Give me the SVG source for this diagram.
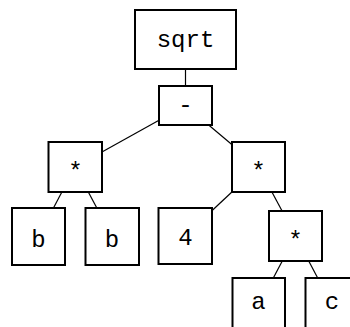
<svg xmlns="http://www.w3.org/2000/svg" width="350" height="327" viewBox="0 0 350 327">
<style>
.box{fill:#fff;stroke:#000;stroke-width:2}
.lbl{font-family:"Liberation Mono","DejaVu Sans Mono",monospace;font-size:24px;text-anchor:middle;fill:#000}
.edge{stroke:#000;stroke-width:1.2;fill:none}
</style>
<rect width="350" height="327" fill="#fff"/>
<g id="connectors">
<line class="edge" x1="185.5" y1="39.5" x2="185.5" y2="105.5"/>
<line class="edge" x1="185.5" y1="105.5" x2="75" y2="167"/>
<line class="edge" x1="185.5" y1="105.5" x2="258.5" y2="167"/>
<line class="edge" x1="75" y1="167" x2="38.5" y2="236.5"/>
<line class="edge" x1="75" y1="167" x2="112" y2="236.5"/>
<line class="edge" x1="258.5" y1="167" x2="185" y2="236"/>
<line class="edge" x1="258.5" y1="167" x2="295.5" y2="236"/>
<line class="edge" x1="295.5" y1="236" x2="258.5" y2="306"/>
<line class="edge" x1="295.5" y1="236" x2="332.5" y2="306"/>
</g>
<g id="n_sqrt"><rect class="box" x="135" y="10" width="101" height="59"/><text class="lbl" x="185.5" y="46.5">sqrt</text></g>
<g id="n_minus"><rect class="box" x="159" y="86" width="53" height="39"/><text class="lbl" x="185.5" y="112">-</text></g>
<g id="n_mul1"><rect class="box" x="48.5" y="142" width="53.5" height="50"/><text class="lbl" x="75.5" y="179">*</text></g>
<g id="n_b1"><rect class="box" x="12" y="208" width="53" height="57"/><text class="lbl" x="38.5" y="246.5">b</text></g>
<g id="n_b2"><rect class="box" x="85.5" y="208" width="53.5" height="57"/><text class="lbl" x="112" y="246.5">b</text></g>
<g id="n_mul2"><rect class="box" x="232" y="142" width="53" height="50"/><text class="lbl" x="258.5" y="179">*</text></g>
<g id="n_4"><rect class="box" x="158.5" y="208" width="53.5" height="56"/><text class="lbl" x="185.5" y="245">4</text></g>
<g id="n_mul3"><rect class="box" x="269" y="211" width="53" height="50"/><text class="lbl" x="295.5" y="248">*</text></g>
<g id="n_a"><rect class="box" x="232.5" y="278" width="52.5" height="57"/><text class="lbl" x="258.5" y="308.5">a</text></g>
<g id="n_c"><rect class="box" x="305.5" y="278" width="53" height="57"/><text class="lbl" x="332" y="308.5">c</text></g>
</svg>
